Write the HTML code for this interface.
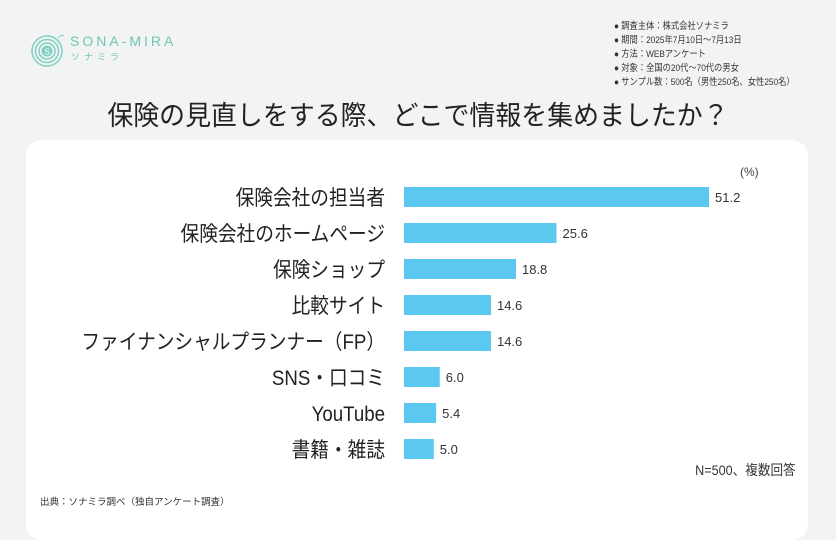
<!DOCTYPE html>
<html><head><meta charset="utf-8">
<style>
body{margin:0;width:836px;height:517px;background:#f2f4f4;position:relative;overflow:hidden;font-family:"Liberation Sans","Noto Sans CJK JP",sans-serif;color:#222}
.card{position:absolute;left:26px;top:140px;width:782px;height:400px;background:#fff;border-radius:16px}
.meta{position:absolute;left:614px;top:20px;font-size:9.5px;line-height:14px;color:#333;transform:scaleX(0.87);transform-origin:0 0;white-space:nowrap}
.title{position:absolute;left:0;width:836px;top:94px;text-align:center;font-size:27px;color:#222;transform:scaleX(0.96)}
</style></head><body>
<div class="card"></div>
<div style="position:absolute;left:30px;top:30px">
<svg width="40" height="40" viewBox="0 0 40 40"><g fill="none" stroke="#7fcfc2" stroke-width="1.5"><circle cx="17" cy="21" r="15"/><circle cx="17" cy="21" r="11.5"/><circle cx="17" cy="21" r="8"/></g><circle cx="17" cy="21" r="5.5" fill="#7fcfc2"/><text x="17" y="24.5" font-size="8" fill="#fff" text-anchor="middle" font-family="Liberation Sans">S</text><path d="M28 8 q4 -4 6 -2" stroke="#7fcfc2" fill="none"/></svg>
</div>
<div style="position:absolute;left:70px;top:33px;color:#6fc4b6;font-size:14px;letter-spacing:3px">SONA-MIRA</div>
<div style="position:absolute;left:71px;top:50px;color:#6fc4b6;font-size:9px;letter-spacing:4px">ソナミラ</div>
<div class="meta">
<div>● 調査主体：株式会社ソナミラ</div><div>● 期間：2025年7月10日～7月13日</div><div>● 方法：WEBアンケート</div><div>● 対象：全国の20代～70代の男女</div><div>● サンプル数：500名（男性250名、女性250名）</div></div>
<div class="title">保険の見直しをする際、どこで情報を集めましたか？</div>
<svg id="chart" width="836" height="517" style="position:absolute;left:0;top:0"></svg>
<div style="position:absolute;left:740px;top:165px;font-size:12px;color:#444">(%)</div>
<div style="position:absolute;right:40px;top:460px;font-size:14px;color:#333;transform:scaleX(0.9);transform-origin:100% 0">N=500、複数回答</div>
<div style="position:absolute;left:40px;top:494px;font-size:9.5px;color:#333">出典：ソナミラ調べ（独自アンケート調査）</div>
<script>
const categories=["保険会社の担当者","保険会社のホームページ","保険ショップ","比較サイト","ファイナンシャルプランナー（FP）","SNS・口コミ","YouTube","書籍・雑誌"];
const values=[51.2,25.6,18.8,14.6,14.6,6.0,5.4,5.0];
const labels=["51.2","25.6","18.8","14.6","14.6","6.0","5.4","5.0"];
const ns="http://www.w3.org/2000/svg";
const svg=document.getElementById('chart');
const x0=404,k=305/51.2,y0=197,step=36,bh=20;
const xs=v=>k*v, ys=i=>y0+i*step;
categories.forEach((c,i)=>{
 const r=document.createElementNS(ns,'rect');
 r.setAttribute('x',x0);r.setAttribute('y',ys(i)-bh/2);r.setAttribute('width',xs(values[i]));r.setAttribute('height',bh);r.setAttribute('fill','#5bc8ef');
 
 
 svg.appendChild(r);
 const t=document.createElementNS(ns,'text');
 t.setAttribute('x',0);t.setAttribute('y',0);t.setAttribute('transform','translate(385,'+(ys(i)+8)+') scale(0.89,1)');t.setAttribute('text-anchor','end');t.setAttribute('font-size','21');t.setAttribute('fill','#222');
 t.setAttribute('font-family','"Liberation Sans","Noto Sans CJK JP",sans-serif');t.textContent=c;
 
 
 svg.appendChild(t);
 const v=document.createElementNS(ns,'text');
 v.setAttribute('x',x0+xs(values[i])+6);v.setAttribute('y',ys(i)+5);v.setAttribute('font-size','13');v.setAttribute('fill','#333');
 v.setAttribute('font-family','"Liberation Sans",sans-serif');v.textContent=labels[i];
 
 
 svg.appendChild(v);
});
</script>
</body></html>
